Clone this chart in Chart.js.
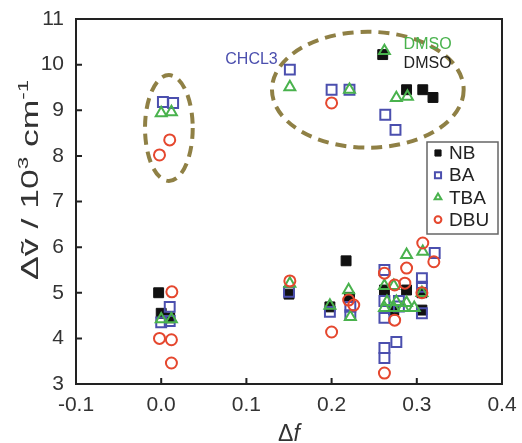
<!DOCTYPE html>
<html>
<head>
<meta charset="utf-8">
<script src="https://cdn.jsdelivr.net/npm/chart.js@4.4.1/dist/chart.umd.min.js"></script>
<style>
  html, body { margin: 0; padding: 0; background: #fff; }
  #wrap { width: 522px; height: 443px; }
</style>
</head>
<body>
<div id="wrap"><canvas id="shiftChart"></canvas></div>
<script>
// Stokes shift against solvent orientation polarizability for four dyes
const seriesNames = ['NB', 'BA', 'TBA', 'DBU'];

const nbDf = [-0.003, 0.0, 0.01, 0.15, 0.198, 0.217, 0.221, 0.262, 0.273, 0.288, 0.306, 0.306, 0.26, 0.288, 0.307, 0.319];
const nbDv = [5.0, 4.55, 4.45, 4.97, 4.69, 5.70, 4.9, 5.06, 4.62, 5.06, 5.0, 4.62, 10.22, 9.45, 9.45, 9.28];

const baDf = [0.002, 0.014, 0.01, 0.0, 0.01, 0.151, 0.2, 0.221, 0.15, 0.198, 0.222, 0.222, 0.263, 0.275,
              0.262, 0.306, 0.306, 0.321, 0.306, 0.262, 0.279, 0.262, 0.279, 0.276, 0.262, 0.262];
const baDv = [9.18, 9.16, 4.69, 4.35, 4.38, 9.89, 9.45, 9.45, 5.02, 4.58, 4.69, 4.51, 8.9, 8.57,
              5.5, 5.32, 5.13, 5.87, 4.55, 4.82, 4.82, 4.45, 4.7, 3.92, 3.79, 3.57];

const tbaDf = [0.0, 0.012, 0.0, 0.012, 0.151, 0.221, 0.262, 0.276, 0.289, 0.151, 0.198, 0.22, 0.222,
               0.288, 0.307, 0.262, 0.273, 0.306, 0.265, 0.276, 0.288, 0.262, 0.273, 0.284, 0.297];
const tbaDv = [8.94, 8.96, 4.42, 4.42, 9.51, 9.45, 10.3, 9.27, 9.3, 5.2, 4.72, 5.06, 4.47,
               5.83, 5.9, 5.15, 5.15, 5.0, 4.8, 4.8, 4.78, 4.67, 4.67, 4.67, 4.67];

const dbuDf = [0.01, -0.002, 0.0125, -0.002, 0.012, 0.012, 0.2, 0.151, 0.2, 0.22, 0.226,
               0.307, 0.32, 0.288, 0.262, 0.274, 0.286, 0.306, 0.274, 0.262];
const dbuDv = [8.35, 8.02, 5.02, 4.0, 3.97, 3.46, 9.16, 5.26, 4.14, 4.84, 4.73,
               6.09, 5.68, 5.54, 5.43, 5.17, 5.21, 5.0, 4.4, 3.24];

const xTicks = [-0.1, 0.0, 0.1, 0.2, 0.3, 0.4];
const yTicks = [3, 4, 5, 6, 7, 8, 9, 10, 11];

// dashed groups: centre and half-widths in axis units
const groupCx = [0.009, 0.2425];
const groupCy = [8.61, 9.45];
const groupRx = [0.028, 0.1125];
const groupRy = [1.16, 1.27];

// solvent notes next to the upper group
const noteText = ['CHCL3', 'DMSO', 'DMSO'];
const noteDf = [0.106, 0.2845, 0.2845];
const noteDv = [10.1, 10.45, 10.03];
const noteColor = ['#4b4fae', '#49b24d', '#222'];
const noteAlign = ['center', 'left', 'left'];

const pts = (xs, ys) => xs.map((v, i) => ({ x: v, y: ys[i] }));
const FONT = '"Liberation Sans", Arial, sans-serif';

const styles = [
  { pointStyle: 'rect', backgroundColor: '#111', borderColor: '#111', pointRadius: 7, borderWidth: 1 },
  { pointStyle: 'rect', backgroundColor: 'rgba(0,0,0,0)', borderColor: '#4b4fae', pointRadius: 7, borderWidth: 2 },
  { pointStyle: 'triangle', backgroundColor: 'rgba(0,0,0,0)', borderColor: '#49b24d', pointRadius: 6.3, borderWidth: 2 },
  { pointStyle: 'circle', backgroundColor: 'rgba(0,0,0,0)', borderColor: '#e5472e', pointRadius: 5.5, borderWidth: 2 }
];
const values = [pts(nbDf, nbDv), pts(baDf, baDv), pts(tbaDf, tbaDv), pts(dbuDf, dbuDv)];

// text runs with raised superscripts; stretched along the baseline to a given length if asked
function richText(ctx, runs, size, x, y, length) {
  const fontOf = r => (r.italic ? 'italic ' : '') + (r.sup ? Math.round(size * 0.62) : size) + 'px ' + FONT;
  const widths = runs.map(r => { ctx.font = fontOf(r); return ctx.measureText(r.t).width; });
  const total = widths.reduce((a, b) => a + b, 0);
  const k = length ? length / total : 1;
  ctx.save();
  ctx.translate(x, y);
  ctx.scale(k, 1);
  let cx = -total / 2;
  runs.forEach((r, i) => {
    ctx.font = fontOf(r);
    ctx.fillText(r.t, cx, r.sup ? -size * 0.42 : 0);
    cx += widths[i];
  });
  ctx.restore();
}

const decorations = {
  id: 'decorations',
  beforeDatasetsDraw(chart) {
    const { ctx, scales: { x, y } } = chart;
    ctx.save();
    ctx.strokeStyle = '#8f8045';
    ctx.lineWidth = 4;
    ctx.setLineDash([11, 7]);
    groupCx.forEach((cx, i) => {
      const px = x.getPixelForValue(cx);
      const py = y.getPixelForValue(groupCy[i]);
      const rx = x.getPixelForValue(cx + groupRx[i]) - px;
      const ry = py - y.getPixelForValue(groupCy[i] + groupRy[i]);
      ctx.beginPath();
      ctx.ellipse(px, py, rx, ry, 0, 0, Math.PI * 2);
      ctx.stroke();
    });
    ctx.restore();
  },
  afterDraw(chart) {
    const { ctx, chartArea: a, scales: { x, y } } = chart;
    ctx.save();
    // box and inward ticks
    ctx.strokeStyle = '#222';
    ctx.lineWidth = 2;
    ctx.beginPath();
    ctx.moveTo(a.left, a.top); ctx.lineTo(a.right, a.top); ctx.lineTo(a.right, a.bottom);
    xTicks.slice(1, -1).forEach(v => {
      const px = x.getPixelForValue(v);
      ctx.moveTo(px, a.bottom); ctx.lineTo(px, a.bottom - 6);
    });
    yTicks.slice(1, -1).forEach(v => {
      const py = y.getPixelForValue(v);
      ctx.moveTo(a.left, py); ctx.lineTo(a.left + 6, py);
    });
    ctx.stroke();

    // notes
    ctx.font = '16px ' + FONT;
    ctx.textBaseline = 'middle';
    noteText.forEach((t, i) => {
      ctx.fillStyle = noteColor[i];
      ctx.textAlign = noteAlign[i];
      ctx.fillText(t, x.getPixelForValue(noteDf[i]), y.getPixelForValue(noteDv[i]));
    });

    // legend
    const lx = 427, ly = 142, lw = 71, lh = 92;
    ctx.strokeStyle = '#666';
    ctx.lineWidth = 1.5;
    ctx.strokeRect(lx, ly, lw, lh);
    ctx.font = '19px ' + FONT;
    ctx.textAlign = 'left';
    seriesNames.forEach((name, i) => {
      const rowY = ly + 11 + i * 22.2;
      const s = styles[i];
      ctx.fillStyle = s.backgroundColor;
      ctx.strokeStyle = s.borderColor;
      ctx.lineWidth = s.borderWidth;
      Chart.helpers.drawPoint(ctx, { pointStyle: s.pointStyle, rotation: 0, radius: s.pointRadius * 0.62, borderWidth: s.borderWidth }, lx + 11, rowY);
      ctx.fillStyle = '#222';
      ctx.fillText(name, lx + 22, rowY + 1);
    });

    // axis titles
    ctx.fillStyle = '#333';
    ctx.textAlign = 'left';
    ctx.textBaseline = 'alphabetic';
    richText(ctx, [{ t: 'Δ' }, { t: 'f', italic: true }], 23, (a.left + a.right) / 2, 441);
    ctx.translate(38, 180);
    ctx.rotate(-Math.PI / 2);
    richText(ctx, [{ t: 'Δṽ / 10' }, { t: '3', sup: true }, { t: ' cm' }, { t: '-1', sup: true }], 24, 0, 0, 200);
    ctx.restore();
  }
};

const ctx = document.getElementById('shiftChart').getContext('2d');
new Chart(ctx, {
  type: 'scatter',
  data: {
    datasets: seriesNames.map((name, i) => Object.assign({
      label: name,
      data: values[i],
      order: 3 - i
    }, styles[i]))
  },
  options: {
    responsive: true,
    maintainAspectRatio: false,
    animation: false,
    layout: { padding: { top: 19, right: 20 } },
    plugins: { legend: { display: false }, tooltip: { enabled: false } },
    scales: {
      x: {
        type: 'linear', min: -0.1, max: 0.4,
        afterBuildTicks: s => { s.ticks = xTicks.map(v => ({ value: v })); },
        afterFit: s => { s.height = 59; s.paddingLeft = 0; s.paddingRight = 0; },
        grid: { display: false, drawTicks: false },
        border: { display: true, color: '#222', width: 2 },
        ticks: { padding: 9, color: '#333', font: { family: FONT, size: 21 }, callback: v => v.toFixed(1) }
      },
      y: {
        type: 'linear', min: 3, max: 11,
        afterBuildTicks: s => { s.ticks = yTicks.map(v => ({ value: v })); },
        afterFit: s => { s.width = 76; s.paddingTop = 0; s.paddingBottom = 0; },
        grid: { display: false, drawTicks: false },
        border: { display: true, color: '#222', width: 2 },
        ticks: { padding: 12, color: '#333', font: { family: FONT, size: 21 } }
      }
    }
  },
  plugins: [decorations]
});
</script>
</body>
</html>
